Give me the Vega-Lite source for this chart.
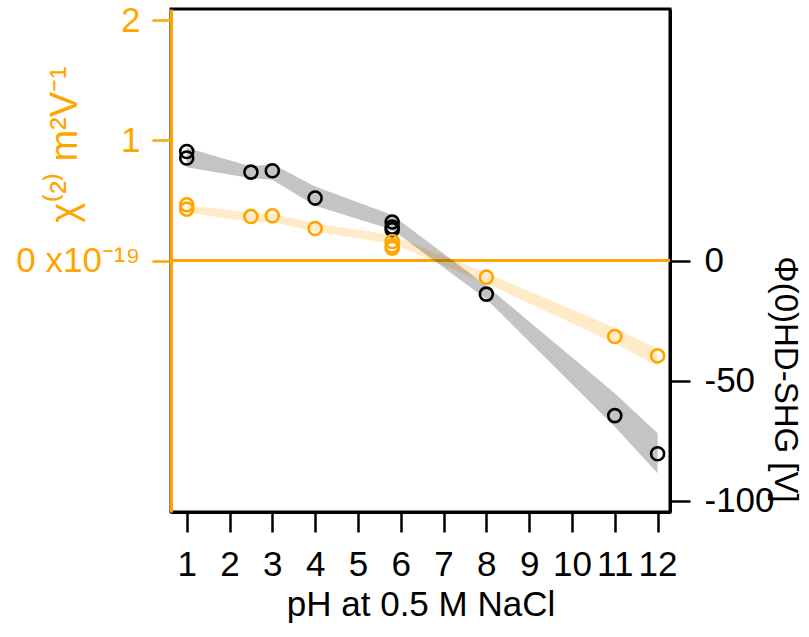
{
  "$schema": "https://vega.github.io/schema/vega-lite/v6.json",
  "width": 499,
  "height": 503,
  "autosize": "none",
  "padding": {"left": 171, "top": 9, "right": 139, "bottom": 125},
  "config": {
    "view": {"stroke": "black", "strokeWidth": 3},
    "font": "Liberation Sans",
    "axis": {"grid": false, "labelFont": "Liberation Sans", "titleFont": "Liberation Sans", "labelFontSize": 35, "titleFontSize": 35, "titleFontWeight": "normal", "labelFlush": false, "labelOverlap": false}
  },
  "datasets": {
    "chiBand": [
      {"pH": 1, "lo": 0.40, "hi": 0.46},
      {"pH": 2.5, "lo": 0.32, "hi": 0.40},
      {"pH": 3, "lo": 0.32, "hi": 0.39},
      {"pH": 4, "lo": 0.24, "hi": 0.31},
      {"pH": 5.8, "lo": 0.14, "hi": 0.21},
      {"pH": 8, "lo": -0.19, "hi": -0.105},
      {"pH": 11, "lo": -0.69, "hi": -0.56},
      {"pH": 12, "lo": -0.88, "hi": -0.735}
    ],
    "phiBand": [
      {"pH": 1, "lo": 38.8, "hi": 47.0},
      {"pH": 2.5, "lo": 34.3, "hi": 39.2},
      {"pH": 3, "lo": 33.6, "hi": 40.2},
      {"pH": 4, "lo": 22.8, "hi": 30.8},
      {"pH": 5.8, "lo": 12.8, "hi": 19.0},
      {"pH": 8, "lo": -16.0, "hi": -10.5},
      {"pH": 11, "lo": -69.2, "hi": -55.3},
      {"pH": 12, "lo": -88.6, "hi": -71.9}
    ],
    "chiPoints": [
      {"pH": 1, "chi": 0.464},
      {"pH": 1, "chi": 0.428},
      {"pH": 2.5, "chi": 0.367},
      {"pH": 3, "chi": 0.372},
      {"pH": 4, "chi": 0.267},
      {"pH": 5.8, "chi": 0.158},
      {"pH": 5.8, "chi": 0.122},
      {"pH": 5.8, "chi": 0.103},
      {"pH": 8, "chi": -0.139},
      {"pH": 11, "chi": -0.633},
      {"pH": 12, "chi": -0.794}
    ],
    "phiPoints": [
      {"pH": 1, "phi": 45.4},
      {"pH": 1, "phi": 42.7},
      {"pH": 2.5, "phi": 36.8},
      {"pH": 3, "phi": 37.4},
      {"pH": 4, "phi": 26.0},
      {"pH": 5.8, "phi": 16.0},
      {"pH": 5.8, "phi": 13.9},
      {"pH": 5.8, "phi": 12.8},
      {"pH": 8, "phi": -14.0},
      {"pH": 11, "phi": -64.6},
      {"pH": 12, "phi": -80.5}
    ]
  },
  "layer": [
    {
      "data": {"name": "chiBand"},
      "mark": {"type": "area", "color": "#FFA500", "opacity": 0.22},
      "encoding": {
        "x": {
          "field": "pH", "type": "quantitative",
          "scale": {"domain": [0.633, 12.29], "nice": false, "zero": false},
          "axis": {
            "title": "pH at 0.5 M NaCl",
            "values": [1, 2, 3, 4, 5, 6, 7, 8, 9, 10, 11, 12],
            "tickSize": 20, "tickWidth": 2.5, "tickColor": "black",
            "domainColor": "black", "domainWidth": 3,
            "labelColor": "black", "titleColor": "black",
            "labelPadding": 15, "labelFontSize": 35, "titleFontSize": 35,
            "titleX": 249.5, "titleY": 103, "titleBaseline": "alphabetic", "titleAlign": "center"
          }
        },
        "y": {
          "field": "lo", "type": "quantitative",
          "scale": {"domain": [-2.095, 2.095], "nice": false, "zero": false},
          "axis": {
            "orient": "left",
            "title": "χ⁽²⁾ m²V⁻¹",
            "values": [0, 1, 2],
            "labelExpr": "datum.value === 0 ? '0 x10⁻¹⁹' : datum.label",
            "tickSize": 19, "tickWidth": 2.5, "tickColor": "#FFA500",
            "domainColor": "#FFA500", "domainWidth": 3,
            "labelColor": "#FFA500", "titleColor": "#FFA500",
            "labelPadding": 12, "titleFontSize": 38,
            "titleAngle": -90, "titleX": -95, "titleY": 135,
            "titleBaseline": "alphabetic", "titleAlign": "center"
          }
        },
        "y2": {"field": "hi"}
      }
    },
    {
      "data": {"values": [{}]},
      "mark": {"type": "rule", "color": "#FFA500", "strokeWidth": 3},
      "encoding": {
        "y": {"datum": 0, "type": "quantitative", "scale": {"domain": [-2.095, 2.095], "nice": false, "zero": false}, "axis": null}
      }
    },
    {
      "data": {"name": "phiBand"},
      "mark": {"type": "area", "color": "black", "opacity": 0.23},
      "encoding": {
        "x": {"field": "pH", "type": "quantitative", "scale": {"domain": [0.633, 12.29], "nice": false, "zero": false}},
        "y": {
          "field": "lo", "type": "quantitative",
          "scale": {"domain": [-104.75, 104.75], "nice": false, "zero": false},
          "axis": {
            "orient": "right",
            "title": "Φ(0)HD-SHG [V]",
            "values": [0, -50, -100],
            "labelExpr": "'' + datum.value",
            "tickSize": 20, "tickWidth": 2.5, "tickColor": "black",
            "domainColor": "black", "domainWidth": 3,
            "labelColor": "black", "titleColor": "black",
            "labelPadding": 14, "labelAlign": "left", "titleFontSize": 33,
            "titleAngle": 90, "titleX": 104, "titleY": 370,
            "titleBaseline": "alphabetic", "titleAlign": "center"
          }
        },
        "y2": {"field": "hi"}
      }
    },
    {
      "data": {"name": "phiPoints"},
      "mark": {"type": "point", "shape": "circle", "filled": false, "size": 170, "strokeWidth": 2.6, "color": "black", "opacity": 1},
      "encoding": {
        "x": {"field": "pH", "type": "quantitative", "scale": {"domain": [0.633, 12.29], "nice": false, "zero": false}},
        "y": {"field": "phi", "type": "quantitative", "scale": {"domain": [-104.75, 104.75], "nice": false, "zero": false}, "axis": null}
      }
    },
    {
      "data": {"name": "chiPoints"},
      "mark": {"type": "point", "shape": "circle", "filled": false, "size": 170, "strokeWidth": 2.6, "color": "#FFA500", "opacity": 1},
      "encoding": {
        "x": {"field": "pH", "type": "quantitative", "scale": {"domain": [0.633, 12.29], "nice": false, "zero": false}},
        "y": {"field": "chi", "type": "quantitative", "scale": {"domain": [-2.095, 2.095], "nice": false, "zero": false}, "axis": null}
      }
    }
  ],
  "resolve": {"scale": {"y": "independent"}}
}
